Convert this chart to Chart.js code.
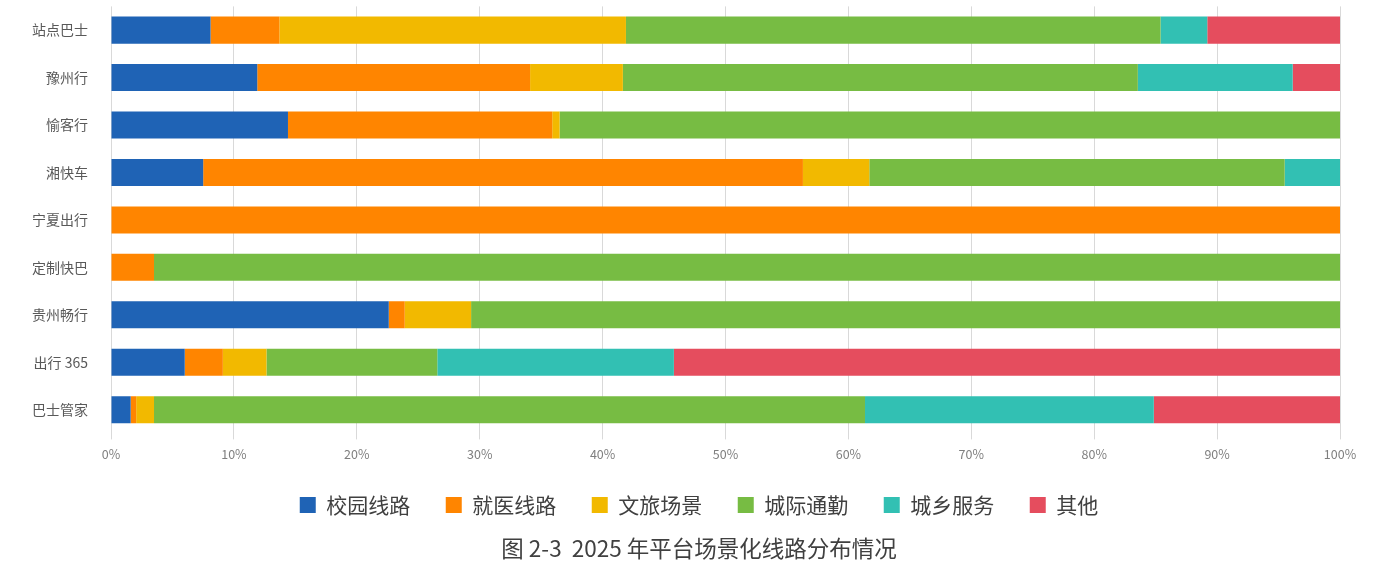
<!DOCTYPE html>
<html>
<head>
<meta charset="utf-8">
<script src="https://cdn.jsdelivr.net/npm/chart.js@4"></script>
<style>
  html, body { margin: 0; padding: 0; background: #fff; overflow: hidden; }
  #frame { width: 1394px; height: 573px; position: relative; overflow: hidden; }
  /* chart.js keeps ~25px free above the plot here, so the canvas is taller and pulled up */
  #wrap { width: 1394px; height: 598.4px; position: absolute; left: 0; top: -25.4px; }
</style>
</head>
<body>
<div id="frame"><div id="wrap"><canvas id="bar-chart"></canvas></div></div>
<script>
// platforms, top to bottom
const platforms = ["站点巴士", "豫州行", "愉客行", "湘快车", "宁夏出行", "定制快巴", "贵州畅行", "出行 365", "巴士管家"];

// share of routes by scene (%)
const campus    = [8.1, 11.9, 14.4,  7.5,   0,    0, 22.6,  6.0,  1.6];
const medical   = [5.6, 22.2, 21.5, 48.8, 100,  3.5,  1.3,  3.1,  0.45];
const tourism   = [28.2, 7.55, 0.6,  5.4,   0,    0,  5.4,  3.55, 1.45];
const intercity = [43.5, 41.9, 63.5, 33.8,  0, 96.5, 70.7, 13.9, 57.85];
const rural     = [3.8, 12.6,    0,  4.5,   0,    0,    0, 19.25, 23.5];
const other     = [10.9, 3.85,   0,    0,   0,    0,    0, 54.2, 15.15];

const xTicks = [0, 10, 20, 30, 40, 50, 60, 70, 80, 90, 100];

const FONT = "'Noto Sans CJK SC', 'Noto Sans', sans-serif";

function series(label, data, color) {
	return {
		label: label,
		data: data,
		backgroundColor: color,
		borderWidth: 0,
		categoryPercentage: 1,
		barPercentage: 0.57
	};
}

// legend and caption sit centred on the page, not on the padded box
const centreShift = {
	id: 'centreShift',
	afterLayout: function (chart) {
		[chart.legend, chart.titleBlock].forEach(function (b) {
			if (b) { b.left += 13; b.right += 13; }
		});
	}
};

new Chart(document.getElementById("bar-chart"), {
	type: 'bar',
	data: {
		labels: platforms,
		datasets: [
			series("校园线路", campus, "#1F63B5"),
			series("就医线路", medical, "#FF8500"),
			series("文旅场景", tourism, "#F2B900"),
			series("城际通勤", intercity, "#77BC43"),
			series("城乡服务", rural, "#32C0B3"),
			series("其他", other, "#E54D5E")
		]
	},
	plugins: [centreShift],
	options: {
		indexAxis: 'y',
		responsive: true,
		maintainAspectRatio: false,
		animation: false,
		layout: { autoPadding: false, padding: { top: 6, right: 54, left: 32, bottom: 11 } },
		scales: {
			x: {
				stacked: true,
				min: 0,
				max: 100,
				afterBuildTicks: function (axis) {
					axis.ticks = xTicks.map(function (v) { return { value: v }; });
				},
				afterFit: function (scale) { scale.height = 25.5; },
				ticks: {
					callback: function (v) { return v + '%'; },
					color: '#7f7f7f',
					font: { family: FONT, size: 12.5 },
					padding: 7.5,
					maxRotation: 0
				},
				grid: { color: '#d9d9d9', tickLength: 6 },
				border: { display: false }
			},
			y: {
				stacked: true,
				afterFit: function (scale) { scale.width = 79; },
				ticks: {
					color: '#595959',
					font: { family: FONT, size: 14 },
					padding: 23
				},
				grid: { display: false, drawTicks: false },
				border: { display: false }
			}
		},
		plugins: {
			legend: {
				position: 'bottom',
				labels: {
					boxWidth: 16,
					boxHeight: 16,
					padding: 35.5,
					color: '#404040',
					font: { family: FONT, size: 21 }
				}
			},
			title: {
				display: true,
				position: 'bottom',
				text: '图 2-3  2025 年平台场景化线路分布情况',
				color: '#404040',
				font: { family: FONT, size: 22.5, weight: 'normal' },
				padding: { top: 10, bottom: 0 }
			},
			tooltip: { enabled: false }
		}
	}
});
</script>
</body>
</html>
